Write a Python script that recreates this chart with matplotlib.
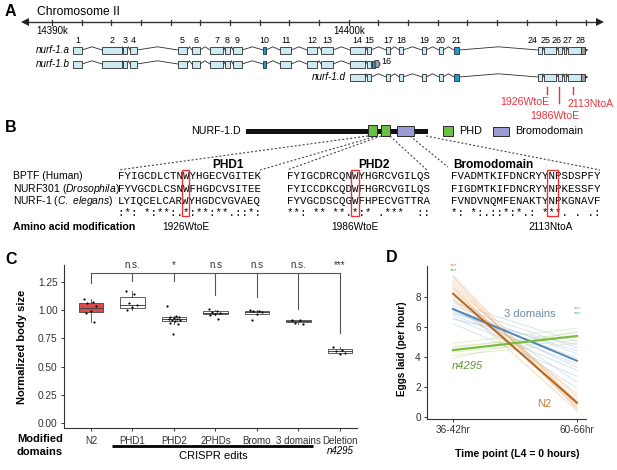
import numpy as np
import matplotlib
matplotlib.use('Agg')
import matplotlib.pyplot as plt
from matplotlib.patches import Rectangle, Polygon

plt.rcParams['font.family'] = ['Liberation Sans', 'DejaVu Sans']
plt.rcParams['mathtext.fontset'] = 'custom'
plt.rcParams['mathtext.rm'] = 'Liberation Sans'
plt.rcParams['mathtext.it'] = 'Liberation Sans:italic'
plt.rcParams['mathtext.bf'] = 'Liberation Sans:bold'

W, H = 617, 470

# ================= DATA =================
# Panel A: gene models (kb on chromosome II)
chrom_ticks_kb = list(range(14390, 14409))
chrom_labels = {14390: '14390k', 14400: '14400k'}
exon_ids = [1, 2, 3, 4, 5, 6, 7, 8, 9, 10, 11, 12, 13, 14, 15, 17, 18, 19, 20, 21, 24, 25, 26, 27, 28]
exon_start = [14390.71, 14391.69, 14392.39, 14392.63, 14394.25, 14394.72, 14395.33, 14395.83, 14396.10,
              14397.11, 14397.68, 14398.59, 14399.07, 14400.04, 14400.62, 14401.26, 14401.70, 14402.47,
              14403.04, 14403.55, 14406.38, 14406.58, 14407.05, 14407.26, 14407.39]
exon_end = [14391.01, 14392.36, 14392.53, 14392.86, 14394.55, 14394.99, 14395.76, 14396.00, 14396.40,
            14397.21, 14398.06, 14398.93, 14399.47, 14400.55, 14400.75, 14401.39, 14401.83, 14402.61,
            14403.18, 14403.72, 14406.52, 14406.99, 14407.19, 14407.32, 14407.83]
blue_exons = [10, 21]
# label positions for the crowded 3' exons (kb)
label_override = {24: 14406.21, 25: 14406.62, 26: 14407.02, 27: 14407.39, 28: 14407.80}
iso_names = ['nurf-1.a', 'nurf-1.b', 'nurf-1.d']
iso_exons = [
    [1, 2, 3, 4, 5, 6, 7, 8, 9, 10, 11, 12, 13, 14, 15, 17, 18, 19, 20, 21, 24, 25, 26, 27, 28],
    [1, 2, 3, 4, 5, 6, 7, 8, 9, 10, 11, 12, 13, 14, 15],
    [14, 15, 17, 18, 19, 20, 21, 24, 25, 26, 27, 28],
]
exon16_blue = (14400.79, 14400.89)
exon16_utr = (14400.89, 14401.06)
utr28 = (14407.83, 14407.96)
mut_kb = [14406.68, 14407.09, 14407.56]
mut_labels = ['1926WtoE', '1986WtoE', '2113NtoA']

# Panel B: alignment
species = ['BPTF (Human)', 'NURF301 ($\\it{Drosophila}$)', 'NURF-1 ($\\it{C.\\ elegans}$)']
domain_titles = ['PHD1', 'PHD2', 'Bromodomain']
seq_blocks = [
    ['FYIGCDLCTNWYHGECVGITEK', 'FYVGCDLCSNWFHGDCVSITEE', 'LYIQCELCARWYHGDCVGVAEQ', ':*: *:**:.*:**:**.::*:'],
    ['FYIGCDRCQNWYHGRCVGILQS', 'FYICCDKCQDWFHGRCVGILQS', 'FYVGCDSCQGWFHPECVGTTRA', '**: ** **.*:* .***  ::'],
    ['FVADMTKIFDNCRYYNPSDSPFY', 'FIGDMTKIFDNCRYYNPKESSFY', 'FVNDVNQMFENAKTYNPKGNAVF', '*: *:.::*:*.: ***. . .:'],
]
mut_cols = [10, 10, 15]

# Panel C: body size
cats = ['N2', 'PHD1', 'PHD2', '2PHDs', 'Bromo', '3 domains', 'Deletion']
c_med = [1.02, 1.046, 0.925, 0.978, 0.984, 0.904, 0.636]
c_q1 = [0.984, 1.017, 0.907, 0.964, 0.964, 0.893, 0.618]
c_q3 = [1.064, 1.120, 0.942, 0.993, 0.996, 0.913, 0.653]
c_lo = [0.898, 1.002, 0.880, 0.955, 0.960, 0.880, 0.610]
c_hi = [1.100, 1.173, 0.950, 1.005, 1.000, 0.915, 0.677]
c_points = [
    [1.10, 1.075, 1.06, 1.037, 0.996, 0.979, 0.898],
    [1.173, 1.144, 1.061, 1.046, 1.026, 1.002],
    [1.036, 0.95, 0.94, 0.935, 0.93, 0.925, 0.92, 0.915, 0.91, 0.90, 0.89, 0.88, 0.785],
    [1.01, 0.995, 0.985, 0.975, 0.97, 0.96, 0.92],
    [1.0, 0.995, 0.99, 0.98, 0.965, 0.915],
    [0.915, 0.91, 0.89, 0.88],
    [0.677, 0.645, 0.635, 0.618, 0.61],
]
sig_labels = ['', 'n.s.', '*', 'n.s', 'n.s', 'n.s.', '***']
bracket_top = 1.33
bracket_ends = [1.241, 1.259, 1.259, 1.135, 1.117, 1.01, 0.798]

# Panel D: egg laying
d_xlabels = ['36-42hr', '60-66hr']
n2_main = [8.2, 0.93]
dom3_main = [7.18, 3.73]
n4295_main = [4.44, 5.38]
n2_thin_start = [9.3, 9.1, 8.9, 8.7, 8.5, 8.3, 8.0, 7.8, 9.4, 8.6]
n2_thin_end = [0.5, 0.7, 1.0, 1.3, 0.8, 1.5, 1.1, 0.4, 0.9, 0.6]
dom3_thin_start = [7.6, 7.4, 7.2, 7.0, 6.8, 6.6, 6.2, 7.8, 7.3, 6.9, 7.1, 6.5]
dom3_thin_end = [5.0, 4.6, 4.2, 3.9, 3.5, 3.1, 2.7, 2.3, 1.9, 4.4, 3.3, 4.8]
n4_thin_start = [4.9, 4.6, 4.3, 4.1, 4.7, 3.9]
n4_thin_end = [5.9, 5.6, 5.1, 4.9, 5.4, 5.7]

# ================= FIGURE =================
fig = plt.figure(figsize=(W / 100, H / 100), dpi=100)

axP = fig.add_axes([0, 0, 1, 1])
axP.set_xlim(0, W); axP.set_ylim(H, 0); axP.axis('off')

def kb(px):
    return 14390 + (px - 52) / 29.67

axG = fig.add_axes([0, 0, 1, 1])
axG.set_xlim(kb(0), kb(W)); axG.set_ylim(H, 0); axG.axis('off')
axG.patch.set_alpha(0)

dark = '#2b2b2b'
light_exon = '#cdeaf3'
blue_exon = '#1a9ad6'
grey_utr = '#a0a0a0'
red = '#e8333a'

# ---- Panel A ----
axP.text(5, 12, 'A', fontsize=11.5, fontweight='bold', va='center')
axP.text(37, 12, 'Chromosome II', fontsize=8.7, va='center')
ych = 22
axG.plot([kb(28), kb(598)], [ych, ych], color='#333', lw=1.0)
axG.plot([kb(25)], [ych], marker='<', ms=6, color='#222', mew=0)
axG.plot([kb(600)], [ych], marker='>', ms=6, color='#222', mew=0)
for t in chrom_ticks_kb:
    axG.plot([t, t], [ych - 2.5, ych + 2.5], color='#333', lw=0.9)
    if t in chrom_labels:
        axG.text(t, 31, chrom_labels[t], fontsize=7.0, ha='center', va='center')

row_y = [50, 64, 77]
hh = 3.5
ex_s = dict(zip(exon_ids, exon_start))
ex_e = dict(zip(exon_ids, exon_end))

def draw_exon(s, e, y, fc):
    axG.add_patch(Rectangle((s, y - hh), e - s, 2 * hh, fc=fc, ec=dark, lw=0.6, zorder=3))

def intron(e, s, y):
    axG.plot([e, (e + s) / 2, s], [y, y - 3.2, y], color=dark, lw=0.6, zorder=2)

for name, ids, y in zip(iso_names, iso_exons, row_y):
    for i, ex in enumerate(ids):
        fc = blue_exon if ex in blue_exons else light_exon
        draw_exon(ex_s[ex], ex_e[ex], y, fc)
        if i > 0:
            intron(ex_e[ids[i - 1]], ex_s[ex], y)
    first = ex_s[ids[0]]
    axG.text(first - 0.12, y, name, fontsize=7.1, style='italic', ha='right', va='center')
    if ids[-1] == 28:
        draw_exon(utr28[0], utr28[1], y, grey_utr)
        axG.add_patch(Polygon([[utr28[1], y - 2], [utr28[1] + 0.12, y], [utr28[1], y + 2]],
                              closed=True, fc='#333', ec='none', zorder=3))
    else:
        draw_exon(exon16_blue[0], exon16_blue[1], y, blue_exon)
        s, e = exon16_utr
        axG.add_patch(Polygon([[s, y - hh], [e - 0.06, y - hh], [e, y], [e - 0.06, y + hh], [s, y + hh]],
                              closed=True, fc=grey_utr, ec=dark, lw=0.6, zorder=3))
        axG.text(e + 0.05, 61, '16', fontsize=6.5, ha='left', va='center')

for ex in iso_exons[0]:
    lx = label_override.get(ex, (ex_s[ex] + ex_e[ex]) / 2)
    axG.text(lx, 40.5, str(ex), fontsize=6.4, ha='center', va='center')

mut_len = [7, 16, 7]
for m, L in zip(mut_kb, mut_len):
    axG.plot([m, m], [87, 87 + L], color=red, lw=1.0)
axP.text(525, 102, mut_labels[0], color=red, fontsize=7.6, ha='center', va='center')
axP.text(555, 116, mut_labels[1], color=red, fontsize=7.6, ha='center', va='center')
axP.text(591, 104, mut_labels[2], color=red, fontsize=7.6, ha='center', va='center')

# ---- Panel B ----
axP.text(5, 128, 'B', fontsize=11.5, fontweight='bold', va='center')
axP.text(241, 131, 'NURF-1.D', fontsize=7.7, ha='right', va='center')
axP.add_patch(Rectangle((246, 129), 182, 4.5, fc='#111', ec='none', zorder=2))
phd_col = '#6abf45'
bromo_col = '#9b9bd6'
phd_boxes = [(368, 377), (381, 390)]
bromo_box = (397, 414)
for s, e in phd_boxes:
    axP.add_patch(Rectangle((s, 125), e - s, 11, fc=phd_col, ec=dark, lw=0.7, zorder=3))
axP.add_patch(Rectangle((bromo_box[0], 125.5), bromo_box[1] - bromo_box[0], 10.5, fc=bromo_col, ec=dark,
                        lw=0.7, zorder=3))
axP.add_patch(Rectangle((443, 126), 10, 10, fc=phd_col, ec=dark, lw=0.7))
axP.text(459, 131, 'PHD', fontsize=7.8, va='center')
axP.add_patch(Rectangle((493, 126.5), 16, 9, fc=bromo_col, ec=dark, lw=0.7))
axP.text(515, 131, 'Bromodomain', fontsize=7.8, va='center')

block_x = [118, 287, 451]
cw = 6.45
mono_fs = cw / (0.6 * 100 / 72)
row_ys = [176, 188.5, 201, 213]
title_x = [228, 374, 493]
for ti, (bx, blk) in enumerate(zip(block_x, seq_blocks)):
    for r, s in enumerate(blk):
        axP.text(bx, row_ys[r], s, family='Liberation Mono', fontsize=mono_fs, ha='left', va='center')
    axP.text(title_x[ti], 165, domain_titles[ti], fontsize=8.6,
             fontweight='bold', ha='center', va='center')
for i, y in enumerate(row_ys[:3]):
    axP.text(13, y, species[i], fontsize=7.5, va='center')

# dashed connectors
dash_kw = dict(color='#444', lw=0.8, ls=(0, (1.8, 1.8)))
box_corners = [(368, 377), (381, 390), (410, 426)]
block_tops = [(118, 170, 260, 170), (287, 170, 427, 170), (448, 167, 600, 170)]
for (l, r), (x1, y1, x2, y2) in zip(box_corners, block_tops):
    axP.plot([l, x1], [136, y1], **dash_kw)
    axP.plot([r, x2], [136, y2], **dash_kw)

# red highlight boxes
box_extra = [1.5, 2.5, 5.0]
for bx, c, ex in zip(block_x, mut_cols, box_extra):
    x0 = bx + c * cw - 1
    axP.add_patch(Rectangle((x0, 170), cw + ex, 46, fc='none', ec=red, lw=1.0, zorder=4))

axP.text(13, 227, 'Amino acid modification', fontsize=7.6, fontweight='bold', va='center')
for bx, c, lab in zip(block_x, mut_cols, mut_labels):
    axP.text(bx + (c + 0.5) * cw, 227, lab, fontsize=7.3, ha='center', va='center')

# ---- Panel C ----
axP.text(5, 259, 'C', fontsize=11.5, fontweight='bold', va='center')
axC = fig.add_axes([64 / W, 1 - 428 / H, 293 / W, 163 / H])
axC.patch.set_alpha(0)
pos = np.arange(len(cats))
stats = [dict(med=m, q1=a, q3=b, whislo=lo, whishi=hi, fliers=[])
         for m, a, b, lo, hi in zip(c_med, c_q1, c_q3, c_lo, c_hi)]
bp = axC.bxp(stats, positions=pos, widths=0.58, patch_artist=True, showfliers=False, showcaps=False,
             boxprops=dict(lw=0.6, edgecolor='#444'), medianprops=dict(color='#444', lw=0.7),
             whiskerprops=dict(color='#444', lw=0.6))
for i, patch in enumerate(bp['boxes']):
    patch.set_facecolor('#e0474c' if i == 0 else 'white')
for i, pts in enumerate(c_points):
    n = len(pts)
    off = ((np.arange(n) * 0.618034) % 1 - 0.5) * 0.32
    axC.scatter(pos[i] + off, pts, s=2.5, color='black', zorder=5, lw=0)

bc = '#555'
axC.plot([pos[0], pos[-1]], [bracket_top, bracket_top], color=bc, lw=0.8, clip_on=False)
for p, e in zip(pos, bracket_ends):
    axC.plot([p, p], [bracket_top, e], color=bc, lw=0.8, clip_on=False)
for p, s in zip(pos, sig_labels):
    if s:
        axC.text(p, 1.40, s, fontsize=7, ha='center', va='center', color='#333', clip_on=False)

axC.set_xlim(-0.65, 6.41)
axC.set_ylim(-0.044, 1.40)
axC.set_yticks([0, 0.25, 0.5, 0.75, 1.0, 1.25])
axC.set_yticklabels(['0.00', '0.25', '0.50', '0.75', '1.00', '1.25'])
axC.set_xticks(pos)
axC.set_xticklabels(cats)
for sp in ['top', 'right']:
    axC.spines[sp].set_visible(False)
for sp in ['left', 'bottom']:
    axC.spines[sp].set_color('#333'); axC.spines[sp].set_linewidth(0.8)
axC.tick_params(axis='both', length=2.5, width=0.7, color='#333', labelcolor='#333', pad=2)
axC.tick_params(axis='y', labelsize=7.3)
axC.tick_params(axis='x', labelsize=7.0, pad=3)
axC.set_ylabel('Normalized body size', fontsize=8, fontweight='bold')
axC.yaxis.set_label_coords(-0.126, 0.5)
axC.plot([0.5, 5.35], [-0.11, -0.11], color='black', lw=2, transform=axC.get_xaxis_transform(),
         clip_on=False, solid_capstyle='butt')
axC.text(2.94, -0.172, 'CRISPR edits', fontsize=8, ha='center', va='center',
         transform=axC.get_xaxis_transform())
axC.text(6, -0.142, 'n4295', fontsize=7.0, style='italic', ha='center', va='center',
         transform=axC.get_xaxis_transform())
axP.text(40, 439, 'Modified', fontsize=8, fontweight='bold', ha='center', va='center')
axP.text(40, 452, 'domains', fontsize=8, fontweight='bold', ha='center', va='center')

# ---- Panel D ----
axP.text(386, 258, 'D', fontsize=11.5, fontweight='bold', va='center')
axD = fig.add_axes([427 / W, 1 - 419 / H, 159 / W, 153 / H])
axD.patch.set_alpha(0)
xs = [0, 1]
c_n2, c_n2t = '#b5651d', '#eeb27a'
c_d3, c_d3t = '#4f86b5', '#a9c8e2'
c_n4, c_n4t = '#78bd3c', '#c3e09c'
for s, e in zip(dom3_thin_start, dom3_thin_end):
    axD.plot(xs, [s, e], color=c_d3t, lw=0.6, alpha=0.55)
for s, e in zip(n4_thin_start, n4_thin_end):
    axD.plot(xs, [s, e], color=c_n4t, lw=0.6, alpha=0.55)
for s, e in zip(n2_thin_start, n2_thin_end):
    axD.plot(xs, [s, e], color=c_n2t, lw=0.6, alpha=0.55)
axD.plot(xs, dom3_main, color=c_d3, lw=1.4)
axD.plot(xs, n4295_main, color=c_n4, lw=1.6)
axD.plot(xs, n2_main, color=c_n2, lw=1.4)
axD.text(0.62, 6.85, '3 domains', color='#6b8bad', fontsize=8, ha='center', va='center')
axD.text(0.12, 3.38, 'n4295', color='#5d9a35', fontsize=8, style='italic', ha='center', va='center')
axD.text(0.74, 0.85, 'N2', color='#c87a35', fontsize=8, ha='center', va='center')
for x, y1, y2 in [(0, 10.05, 9.78), (1, 7.18, 6.9)]:
    axD.text(x, y1, '***', color='#e08a50', fontsize=4.5, ha='center', va='center', clip_on=False)
    axD.text(x, y2, '***', color='#4cbb55', fontsize=4.5, ha='center', va='center', clip_on=False)
axD.set_xlim(-0.21, 1.073)
axD.set_ylim(-0.153, 10.05)
axD.set_yticks([0, 2, 4, 6, 8])
axD.set_xticks(xs)
axD.set_xticklabels(d_xlabels)
for sp in ['top', 'right']:
    axD.spines[sp].set_visible(False)
for sp in ['left', 'bottom']:
    axD.spines[sp].set_color('#333'); axD.spines[sp].set_linewidth(0.8)
axD.tick_params(axis='both', length=2.5, width=0.7, color='#333', labelcolor='#333', labelsize=7.2, pad=2)
axD.set_ylabel('Eggs laid (per hour)', fontsize=7.2, fontweight='bold')
axD.yaxis.set_label_coords(-0.126, 0.46)
axD.set_xlabel('Time point (L4 = 0 hours)', fontsize=7.6, fontweight='bold')
axD.xaxis.set_label_coords(0.566, -0.196)

fig.savefig('out.png', dpi=100)
